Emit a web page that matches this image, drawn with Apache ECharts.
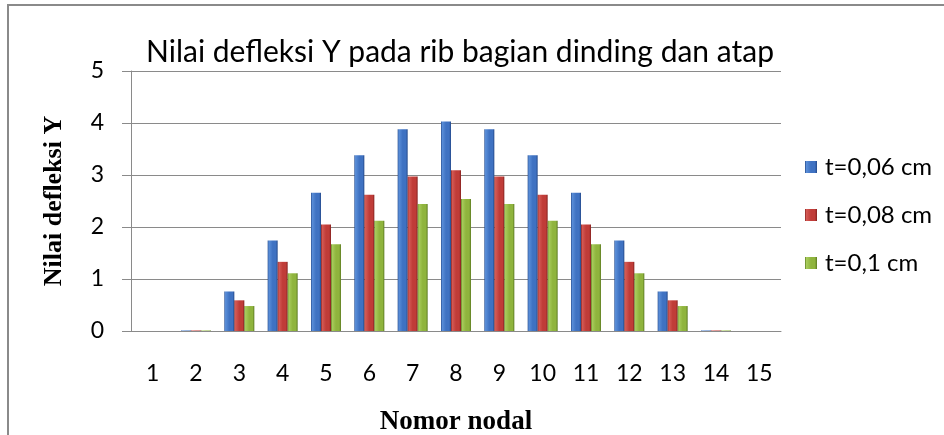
<!DOCTYPE html>
<html>
<head>
<meta charset="utf-8">
<script src="https://cdn.jsdelivr.net/npm/echarts@6/dist/echarts.min.js"></script>
<style>
  html, body { margin: 0; padding: 0; background: #fff; }
  #wrap { position: relative; width: 944px; height: 435px; overflow: hidden; }
  #chart { position: absolute; left: 0; top: 0; width: 944px; height: 435px; }
  #frame { position: absolute; left: 7px; top: 4px; width: 960px; height: 460px;
           border-left: 2px solid #8a8a8a; border-top: 2px solid #8a8a8a; pointer-events: none; }
</style>
</head>
<body>
<div id="wrap"><div id="chart"></div><div id="frame"></div></div>
<script>
const categories = ['1','2','3','4','5','6','7','8','9','10','11','12','13','14','15'];
const seriesNames = ['t=0,06 cm', 't=0,08 cm', 't=0,1 cm'];
const valuesT006 = [0, 0.01, 0.76, 1.74, 2.66, 3.38, 3.88, 4.03, 3.88, 3.38, 2.66, 1.74, 0.76, 0.01, 0];
const valuesT008 = [0, 0.01, 0.59, 1.33, 2.05, 2.62, 2.97, 3.09, 2.97, 2.62, 2.05, 1.33, 0.59, 0.01, 0];
const valuesT01  = [0, 0.01, 0.48, 1.11, 1.67, 2.12, 2.44, 2.54, 2.44, 2.12, 1.67, 1.11, 0.48, 0.01, 0];
const yTicks = [0, 1, 2, 3, 4, 5];

function bevel(light, mid, dark) {
  return new echarts.graphic.LinearGradient(0, 0, 1, 0, [
    { offset: 0, color: dark },
    { offset: 0.12, color: light },
    { offset: 0.5, color: mid },
    { offset: 0.82, color: mid },
    { offset: 1, color: dark }
  ]);
}
const colors = [
  bevel('#5a8ed8', '#3f72c2', '#24498a'),
  bevel('#d45a55', '#c03c38', '#84211f'),
  bevel('#a8cc5c', '#8fb43d', '#5c7a22')
];
const sansFont = 'Lato, "Open Sans", sans-serif';
const serifFont = '"Liberation Serif", "DejaVu Serif", serif';

const chart = echarts.init(document.getElementById('chart'), null, { renderer: 'canvas' });
const option = {
  animation: false,
  backgroundColor: '#ffffff',
  title: {
    text: 'Nilai defleksi Y pada rib bagian dinding dan atap',
    left: 455, top: 32, textAlign: 'center',
    textStyle: { fontFamily: sansFont, fontSize: 30, fontWeight: 'normal', color: '#000' }
  },
  legend: {
    orient: 'vertical', left: 800, top: 150,
    itemWidth: 12, itemHeight: 12, itemGap: 24,
    icon: 'rect',
    textStyle: { fontFamily: sansFont, fontSize: 24, color: '#000', lineHeight: 24, padding: [0, 0, 0, 3] },
    data: seriesNames.map((n, i) => ({ name: n, itemStyle: { color: colors[i] } }))
  },
  grid: { left: 131, right: 163, top: 71, bottom: 104, outerBoundsMode: 'none', containLabel: false },
  xAxis: {
    type: 'category',
    data: categories,
    name: 'Nomor nodal', nameLocation: 'middle', nameGap: 78,
    nameTextStyle: { fontFamily: serifFont, fontSize: 27, fontWeight: 'bold', color: '#000' },
    axisLine: { lineStyle: { color: '#8a8a8a', width: 1 } },
    axisTick: { show: false },
    axisLabel: { margin: 31, fontFamily: sansFont, fontSize: 23, color: '#000' },
    splitLine: { show: false }
  },
  yAxis: {
    type: 'value', min: 0, max: 5, interval: 1,
    name: 'Nilai defleksi Y', nameLocation: 'middle', nameGap: 64, nameRotate: 90,
    nameTextStyle: { fontFamily: serifFont, fontSize: 26, fontWeight: 'bold', color: '#000' },
    axisLine: { show: true, lineStyle: { color: '#8a8a8a', width: 1 } },
    axisTick: { show: true, inside: false, length: 9, lineStyle: { color: '#8a8a8a' } },
    axisLabel: { margin: 27, fontFamily: sansFont, fontSize: 23, color: '#000',
                 formatter: v => yTicks.includes(v) ? String(v) : '' },
    splitLine: { show: true, lineStyle: { color: '#8a8a8a', width: 1 } }
  },
  series: [
    { name: seriesNames[0], type: 'bar', data: valuesT006, barWidth: 10, barGap: '0%', itemStyle: { color: colors[0] } },
    { name: seriesNames[1], type: 'bar', data: valuesT008, barWidth: 10, barGap: '0%', itemStyle: { color: colors[1] } },
    { name: seriesNames[2], type: 'bar', data: valuesT01,  barWidth: 10, barGap: '0%', itemStyle: { color: colors[2] } }
  ]
};
chart.setOption(option);
</script>
</body>
</html>
